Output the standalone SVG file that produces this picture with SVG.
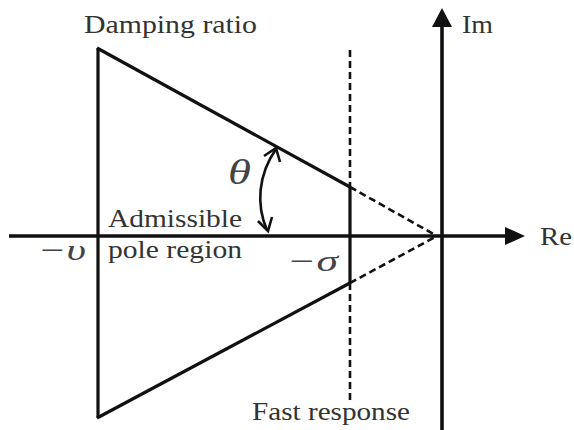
<svg xmlns="http://www.w3.org/2000/svg" width="574" height="430" viewBox="0 0 574 430">
<style>
.ln{stroke:#111;stroke-width:3.2;fill:none}
.ds{stroke:#111;stroke-width:2.6;fill:none;stroke-dasharray:7 4}
.ax{stroke:#111;stroke-width:3.6;fill:none}
.t{font-family:"Liberation Serif","Times New Roman",serif;fill:#333;font-size:25px}
.it{font-family:"Liberation Serif","Times New Roman",serif;fill:#444;font-size:30px;font-style:italic}
</style>
<rect width="574" height="430" fill="#fff"/>
<g id="axes">
<line class="ax" x1="9" y1="236" x2="508" y2="236"/>
<polygon points="525,236 505,227 505,245" fill="#111"/>
<line class="ax" x1="442" y1="24" x2="442" y2="430"/>
<polygon points="442,8 432,27 452,27" fill="#111"/>
</g>
<g id="region">
<line class="ln" x1="98" y1="48" x2="98" y2="418"/>
<line class="ln" x1="97" y1="48" x2="350" y2="187"/>
<line class="ln" x1="97" y1="418" x2="350" y2="283"/>
<line class="ln" x1="350" y1="187" x2="350" y2="283"/>
</g>
<g id="connectors">
<line class="ds" x1="350" y1="187" x2="437" y2="236"/>
<line class="ds" x1="350" y1="283" x2="437" y2="236"/>
<line class="ds" x1="350" y1="50" x2="350" y2="187"/>
<line class="ds" x1="350" y1="283" x2="350" y2="402"/>
<path d="M276,149 C258,175 256,205 267,230" fill="none" stroke="#111" stroke-width="2.6"/>
<path d="M264,156 L276,148 L280,162" fill="none" stroke="#111" stroke-width="2.6"/>
<path d="M258,221 L268,231 L272,217" fill="none" stroke="#111" stroke-width="2.6"/>
</g>
<g id="labels">
<text class="t" x="84" y="33" textLength="173" lengthAdjust="spacingAndGlyphs">Damping ratio</text>
<text class="t" x="462" y="33" textLength="31" lengthAdjust="spacingAndGlyphs">Im</text>
<text class="t" x="540" y="245" textLength="32" lengthAdjust="spacingAndGlyphs">Re</text>
<text class="t" x="108" y="227" textLength="134" lengthAdjust="spacingAndGlyphs">Admissible</text>
<text class="t" x="108" y="258" textLength="134" lengthAdjust="spacingAndGlyphs">pole region</text>
<text class="t" x="252" y="420" textLength="158" lengthAdjust="spacingAndGlyphs">Fast response</text>
<text class="it" x="38" y="260" textLength="48" lengthAdjust="spacingAndGlyphs">−υ</text>
<text class="it" x="287" y="271" textLength="51" lengthAdjust="spacingAndGlyphs">−σ</text>
<text class="it" x="228" y="184" style="font-size:35px" textLength="23" lengthAdjust="spacingAndGlyphs">θ</text>
</g>
</svg>
